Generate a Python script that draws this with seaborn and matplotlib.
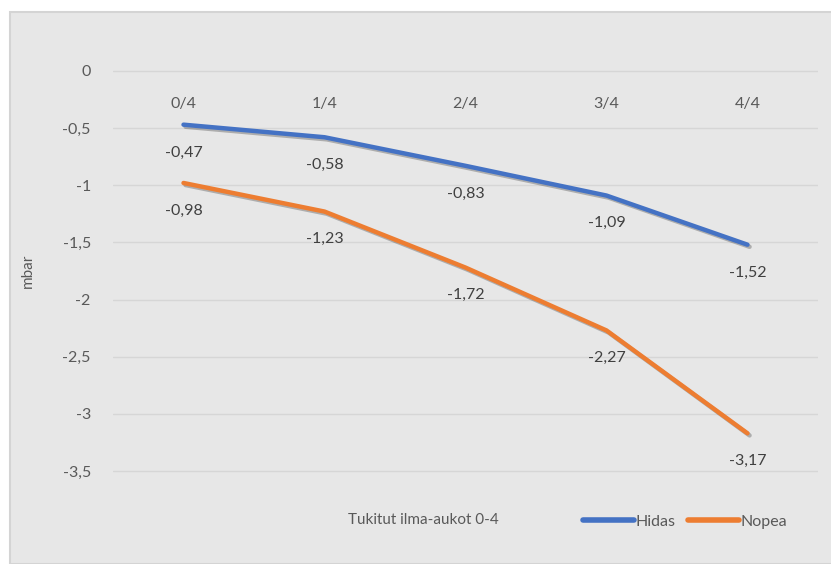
import pandas as pd
import matplotlib.pyplot as plt
import matplotlib.patheffects as pe
import seaborn as sns

categories = ["0/4", "1/4", "2/4", "3/4", "4/4"]
hidas = [-0.47, -0.58, -0.83, -1.09, -1.52]
nopea = [-0.98, -1.23, -1.72, -2.27, -3.17]

df = pd.DataFrame({
    "kategoria": categories * 2,
    "arvo": hidas + nopea,
    "sarja": ["Hidas"] * 5 + ["Nopea"] * 5,
})
df["x"] = df["kategoria"].map({c: i for i, c in enumerate(categories)})

sns.set_theme(style="white")
plt.rcParams["font.family"] = ["Lato", "DejaVu Sans"]

txt = "#595959"
bg = "#E7E7E7"
colors = {"Hidas": "#4472C4", "Nopea": "#ED7D31"}

fig = plt.figure(figsize=(8.31, 5.64), dpi=100)
fig.patch.set_facecolor("white")
# chart area with a thin grey border
fig.patches.append(plt.Rectangle((10 / 831, 0), 1, 1 - 12 / 564, transform=fig.transFigure,
                                 facecolor=bg, edgecolor="#D4D4D4", linewidth=1.5, zorder=-10))

ax = fig.add_axes([113 / 831, 1 - 482.5 / 564, 705 / 831, 423 / 564])
ax.set_facecolor(bg)

shadow = [pe.SimpleLineShadow(offset=(1.5, -1.5), alpha=0.25, shadow_color="black"), pe.Normal()]
sns.lineplot(data=df, x="x", y="arvo", hue="sarja", palette=colors, linewidth=3.2,
             ax=ax, legend=False, path_effects=shadow)
for line in ax.lines:
    line.set_solid_capstyle("round")

ax.set_xlim(-0.5, 4.5)
ax.set_ylim(-3.6, 0.1)
ax.set_yticks([0, -0.5, -1, -1.5, -2, -2.5, -3, -3.5])
ax.set_yticklabels(["0", "-0,5", "-1", "-1,5", "-2", "-2,5", "-3", "-3,5"], color=txt, fontsize=11.5)
ax.tick_params(axis="y", length=0, pad=16)
ax.set_xticks([])
ax.set_xlabel("")
ax.grid(axis="y", color="#D6D6D6", linewidth=1)
ax.set_axisbelow(True)
for s in ax.spines.values():
    s.set_visible(False)

for i, c in enumerate(categories):
    ax.annotate(c, (i, 0), xytext=(0, -24), textcoords="offset points",
                ha="center", va="center", color=txt, fontsize=11.5)

for vals in (hidas, nopea):
    for i, v in enumerate(vals):
        ax.annotate(f"{v:.2f}".replace(".", ","), (i, v), xytext=(0, -20),
                    textcoords="offset points", ha="center", va="center",
                    color="#404040", fontsize=11.5)

ax.set_ylabel("mbar", color=txt, fontsize=11, labelpad=20)
fig.text(423 / 831, 1 - 520 / 564, "Tukitut ilma-aukot 0-4", ha="center", va="center",
         color=txt, fontsize=11)

handles = [plt.Line2D([], [], color=colors[k], linewidth=4, solid_capstyle="round") for k in colors]
fig.legend(handles, list(colors), loc="center", bbox_to_anchor=(685 / 831, 1 - 522 / 564),
           ncol=2, frameon=False, fontsize=11.5, labelcolor=txt, handlelength=3.2,
           handletextpad=0.1, columnspacing=0.8)

fig.savefig("out.png", dpi=100, facecolor=fig.get_facecolor())
